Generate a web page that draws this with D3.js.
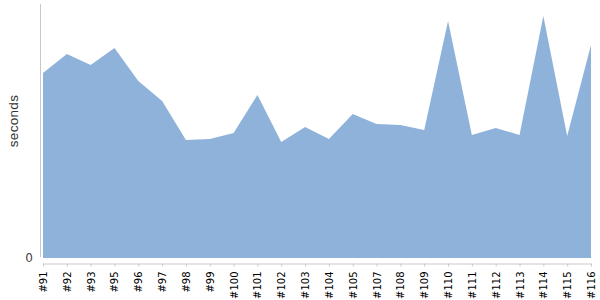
<!DOCTYPE html>
<html>
<head>
<meta charset="utf-8">
<script src="https://cdn.jsdelivr.net/npm/d3@7"></script>
<style>
  body { margin: 0; background: #fff; }
  svg { display: block; font-family: "DejaVu Sans", sans-serif; }
</style>
</head>
<body>
<div id="chart"></div>
<script>
// build labels and duration per build (seconds)
const builds = ['#91', '#92', '#93', '#95', '#96', '#97', '#98', '#99', '#100', '#101', '#102', '#103',
    '#104', '#105', '#107', '#108', '#109', '#110', '#111', '#112', '#113', '#114', '#115', '#116'];
const seconds = [185, 204, 193, 210, 177, 157, 118, 119, 125, 163, 116, 131,
    119, 144, 134, 133, 128, 237, 123, 130, 123, 242, 122, 213];
const yTicks = [0];

const width = 600,
    height = 300,
    x0 = 43, x1 = 591,
    yZero = 258, yTop = 4;

const svg = d3.select('#chart').append('svg')
    .attr('width', width)
    .attr('height', height);

const x = d3.scalePoint()
    .domain(builds)
    .range([x0, x1]);

const y = d3.scaleLinear()
    .domain([0, 254])
    .range([yZero, yTop]);

const area = d3.area()
    .x((d, i) => x(builds[i]))
    .y0(y(0))
    .y1(d => y(d));

svg.append('path')
    .datum(seconds)
    .attr('fill', '#8fb2da')
    .attr('d', area);

// y axis: plain line plus the single "0" label
svg.append('line')
    .attr('x1', 40.5).attr('x2', 40.5)
    .attr('y1', yTop).attr('y2', 257)
    .attr('stroke', '#c8c8c8');

svg.selectAll('.ytick')
    .data(yTicks)
    .enter().append('text')
    .attr('class', 'ytick')
    .attr('x', 33)
    .attr('y', d => y(d))
    .attr('dy', '0.35em')
    .attr('text-anchor', 'end')
    .attr('font-size', 12)
    .attr('fill', '#444')
    .text(d => d);

svg.append('text')
    .attr('transform', 'translate(18,121) rotate(-90)')
    .attr('text-anchor', 'middle')
    .attr('font-family', '"Liberation Sans", sans-serif')
    .attr('font-size', 13.5)
    .attr('letter-spacing', 0.3)
    .attr('fill', '#333')
    .text('seconds');

// x axis
const xAxis = svg.append('g')
    .attr('transform', 'translate(0,263.5)')
    .call(d3.axisBottom(x).tickSize(3).tickSizeOuter(0));

xAxis.select('.domain').attr('stroke', '#c8c8c8');
xAxis.selectAll('.tick line').attr('stroke', '#c8c8c8');
xAxis.selectAll('.tick text')
    .attr('font-family', '"DejaVu Sans", sans-serif')
    .attr('font-size', 10)
    .attr('fill', '#000')
    .attr('transform', 'rotate(-90)')
    .attr('text-anchor', 'end')
    .attr('x', -8)
    .attr('y', 0)
    .attr('dy', '0.35em');
</script>
</body>
</html>
